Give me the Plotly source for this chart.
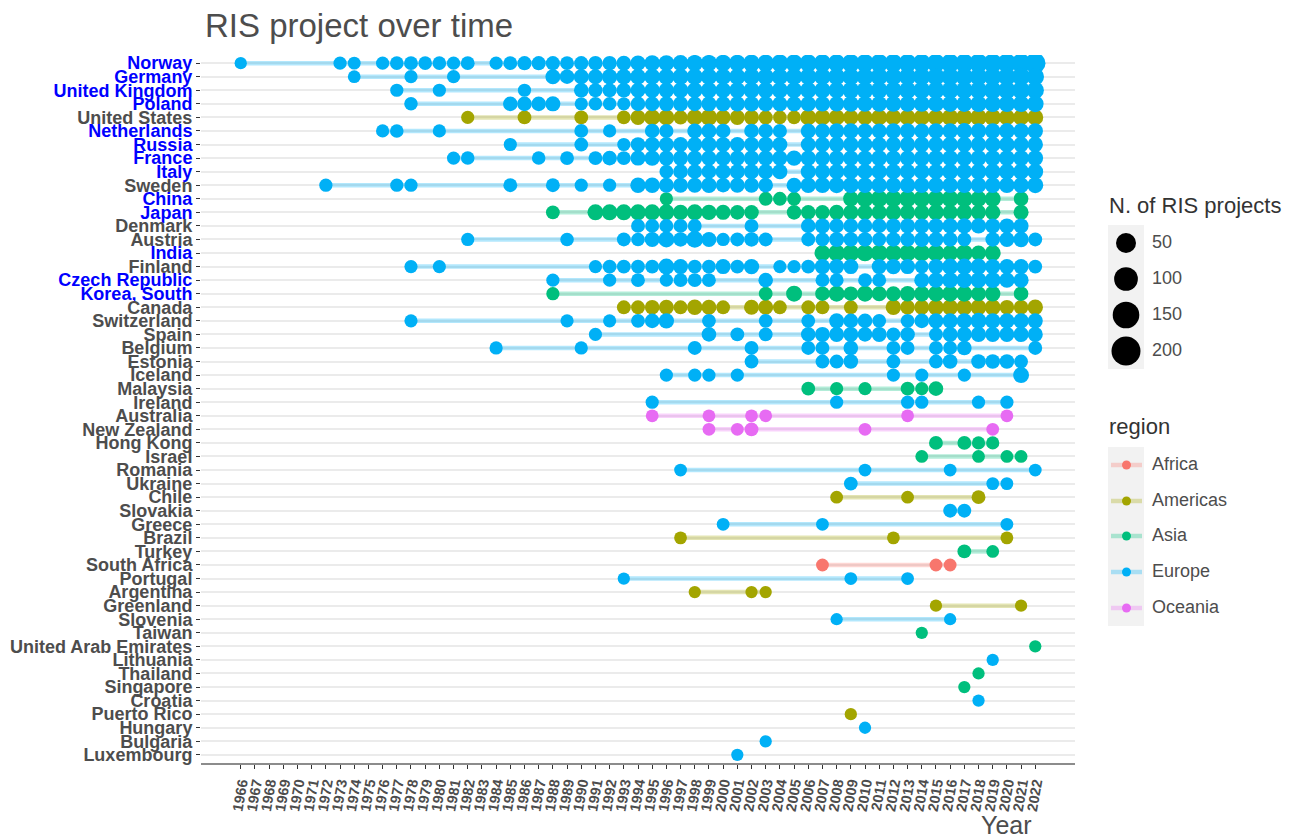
import math
import plotly.graph_objects as go

# ---------------- data ----------------
countries = ["Norway", "Germany", "United Kingdom", "Poland", "United States", "Netherlands",
             "Russia", "France", "Italy", "Sweden", "China", "Japan", "Denmark", "Austria",
             "India", "Finland", "Czech Republic", "Korea, South", "Canada", "Switzerland",
             "Spain", "Belgium", "Estonia", "Iceland", "Malaysia", "Ireland", "Australia",
             "New Zealand", "Hong Kong", "Israel", "Romania", "Ukraine", "Chile", "Slovakia",
             "Greece", "Brazil", "Turkey", "South Africa", "Portugal", "Argentina", "Greenland",
             "Slovenia", "Taiwan", "United Arab Emirates", "Lithuania", "Thailand", "Singapore",
             "Croatia", "Puerto Rico", "Hungary", "Bulgaria", "Luxembourg"]

regions = ["Europe", "Europe", "Europe", "Europe", "Americas", "Europe",
           "Europe", "Europe", "Europe", "Europe", "Asia", "Asia", "Europe", "Europe",
           "Asia", "Europe", "Europe", "Asia", "Americas", "Europe",
           "Europe", "Europe", "Europe", "Europe", "Asia", "Europe", "Oceania",
           "Oceania", "Asia", "Asia", "Europe", "Europe", "Americas", "Europe",
           "Europe", "Americas", "Asia", "Africa", "Europe", "Americas", "Americas",
           "Europe", "Asia", "Asia", "Europe", "Asia", "Asia",
           "Europe", "Americas", "Europe", "Europe", "Europe"]

blue_labels = ["Norway", "Germany", "United Kingdom", "Poland", "Netherlands", "Russia",
               "France", "Italy", "China", "Japan", "India", "Czech Republic", "Korea, South"]

norway_years = [1966, 1973, 1974, 1976, 1977, 1978, 1979, 1980, 1981, 1982,
                1984, 1985, 1986, 1987, 1988, 1989, 1990, 1991, 1992, 1993,
                1994, 1995, 1996, 1997, 1998, 1999, 2000, 2001, 2002, 2003,
                2004, 2005, 2006, 2007, 2008, 2009, 2010, 2011, 2012, 2013,
                2014, 2015, 2016, 2017, 2018, 2019, 2020, 2021, 2022]
norway_n = [1, 3, 2, 3, 4, 5, 4, 4, 3, 5,
            3, 5, 6, 6, 6, 5, 6, 7, 7, 9,
            12, 14, 15, 16, 18, 18, 20, 20, 22, 22,
            24, 24, 25, 26, 26, 28, 28, 30, 30, 30,
            32, 32, 34, 34, 36, 36, 38, 40, 55]

germany_years = [1974, 1978, 1981, 1988, 1989, 1990, 1991, 1992, 1993,
                 1994, 1995, 1996, 1997, 1998, 1999, 2000, 2001, 2002, 2003,
                 2004, 2005, 2006, 2007, 2008, 2009, 2010, 2011, 2012, 2013,
                 2014, 2015, 2016, 2017, 2018, 2019, 2020, 2021, 2022]
germany_n = [2, 3, 3, 10, 8, 10, 10, 12, 12,
             14, 15, 16, 16, 18, 18, 16, 18, 20, 18,
             18, 20, 20, 20, 22, 22, 22, 24, 22, 24,
             24, 26, 26, 26, 28, 28, 28, 30, 26]

uk_years = [1977, 1980, 1986, 1990, 1991, 1992, 1993,
            1994, 1995, 1996, 1997, 1998, 1999, 2000, 2001, 2002, 2003,
            2004, 2005, 2006, 2007, 2008, 2009, 2010, 2011, 2012, 2013,
            2014, 2015, 2016, 2017, 2018, 2019, 2020, 2021, 2022]
uk_n = [3, 3, 3, 8, 6, 6, 8,
        10, 12, 12, 14, 14, 15, 14, 15, 16, 16,
        16, 16, 18, 18, 18, 20, 20, 20, 20, 22,
        22, 22, 24, 24, 24, 26, 26, 28, 24]

poland_years = [1978, 1985, 1986, 1987, 1988, 1990, 1991, 1992, 1993,
                1994, 1995, 1996, 1997, 1998, 1999, 2000, 2001, 2002, 2003,
                2004, 2005, 2006, 2007, 2008, 2009, 2010, 2011, 2012, 2013,
                2014, 2015, 2016, 2017, 2018, 2019, 2020, 2021, 2022]
poland_n = [4, 8, 8, 8, 10, 3, 4, 4, 3,
            8, 8, 10, 10, 8, 10, 10, 12, 12, 12,
            10, 10, 12, 12, 12, 14, 14, 14, 15, 15,
            15, 16, 16, 16, 18, 18, 18, 18, 20]

us_years = [1982, 1986, 1990, 1993,
            1994, 1995, 1996, 1997, 1998, 1999, 2000, 2001, 2002, 2003,
            2004, 2005, 2006, 2007, 2008, 2009, 2010, 2011, 2012, 2013,
            2014, 2015, 2016, 2017, 2018, 2019, 2020, 2021, 2022]
us_n = [3, 5, 5, 4,
        10, 15, 15, 6, 15, 18, 10, 10, 10, 6,
        4, 4, 15, 15, 15, 12, 12, 15, 15, 15,
        15, 15, 18, 18, 18, 18, 15, 15, 15]

netherlands_years = [1976, 1977, 1980, 1990, 1992, 1995, 1996, 1998, 1999, 2000, 2002, 2003, 2004,
                     2006, 2007, 2008, 2009, 2010, 2011, 2012, 2013, 2014, 2015, 2016, 2017,
                     2018, 2019, 2020, 2021, 2022]
netherlands_n = [3, 4, 3, 5, 3, 8, 6, 10, 10, 8, 8, 8, 6,
                 10, 10, 12, 12, 10, 10, 12, 12, 10, 12, 12, 14, 12, 12, 14, 12, 12]

russia_years = [1985, 1990, 1993, 1994, 1995, 1996, 1997, 1998, 1999, 2000, 2001, 2002, 2003, 2004,
                2006, 2007, 2008, 2009, 2010, 2011, 2012, 2013, 2014, 2015, 2016, 2017,
                2018, 2019, 2020, 2021, 2022]
russia_n = [3, 5, 3, 8, 10, 10, 10, 10, 12, 10, 10, 10, 12, 10,
            10, 10, 12, 12, 10, 10, 12, 12, 12, 12, 14, 12, 12, 14, 14, 12, 12]

france_years = [1981, 1982, 1987, 1989, 1991, 1992, 1993,
                1994, 1995, 1996, 1997, 1998, 1999, 2000, 2001, 2002, 2003,
                2004, 2005, 2006, 2007, 2008, 2009, 2010, 2011, 2012, 2013,
                2014, 2015, 2016, 2017, 2018, 2019, 2020, 2021, 2022]
france_n = [3, 4, 4, 5, 5, 8, 5,
            10, 12, 10, 10, 10, 10, 12, 10, 12, 12,
            10, 12, 12, 10, 12, 12, 12, 14, 12, 12,
            14, 14, 14, 14, 14, 14, 14, 14, 14]

italy_years = [1996, 1997, 1998, 1999, 2000, 2001, 2002, 2003, 2004,
               2006, 2007, 2008, 2009, 2010, 2011, 2012, 2013, 2014, 2015, 2016, 2017,
               2018, 2019, 2020, 2021, 2022]
italy_n = [5, 8, 8, 8, 10, 10, 10, 10, 10,
           10, 10, 12, 12, 12, 12, 12, 12, 12, 12, 14, 12, 14, 14, 14, 14, 14]

sweden_years = [1972, 1977, 1978, 1985, 1988, 1990, 1992,
                1994, 1995, 1996, 1997, 1998, 1999, 2000, 2001, 2002, 2003,
                2005, 2006, 2007, 2008, 2009, 2010, 2011, 2012, 2013, 2014, 2015, 2016,
                2017, 2018, 2019, 2020, 2021, 2022]
sweden_n = [3, 3, 3, 5, 5, 3, 3,
            12, 12, 10, 10, 10, 12, 8, 10, 10, 8,
            10, 12, 14, 15, 15, 12, 14, 12, 14, 12, 14, 14, 12, 14, 14, 14, 14, 15]

china_years = [1996, 2003, 2004, 2005, 2009, 2010, 2011, 2012, 2013, 2014, 2015, 2016,
               2017, 2018, 2019, 2021]
china_n = [3, 5, 5, 5, 12, 20, 20, 20, 20, 20, 20, 20, 20, 15, 15, 8]

japan_years = [1988, 1991, 1992, 1993, 1994, 1995, 1996, 1997, 1998, 1999, 2000, 2001, 2002,
               2005, 2006, 2007, 2008, 2009, 2010, 2011, 2012, 2013, 2014, 2015, 2016, 2017,
               2018, 2019, 2021]
japan_n = [5, 15, 15, 15, 15, 15, 15, 12, 15, 12, 10, 8, 8,
           8, 8, 8, 10, 12, 12, 12, 15, 12, 12, 15, 12, 15, 10, 12, 10]

denmark_years = [1994, 1995, 1996, 1997, 1998, 2002, 2006, 2007, 2008, 2009, 2010, 2011,
                 2012, 2013, 2014, 2015, 2016, 2017, 2018, 2019, 2020, 2021]
denmark_n = [5, 5, 5, 5, 5, 5, 8, 10, 8, 8, 8, 8, 10, 10, 10, 10, 12, 12, 12, 10, 10, 10]

austria_years = [1982, 1989, 1993, 1994, 1995, 1996, 1997, 1998, 1999, 2000, 2001, 2002, 2003,
                 2006, 2007, 2008, 2009, 2010, 2011, 2012, 2013, 2014, 2015, 2016, 2017,
                 2019, 2020, 2021, 2022]
austria_n = [3, 4, 5, 4, 10, 15, 8, 20, 10, 3, 5, 8, 5,
             5, 5, 10, 8, 8, 5, 8, 8, 10, 10, 8, 5,
             8, 10, 12, 5]

india_years = [2007, 2008, 2009, 2010, 2011, 2012, 2013, 2014, 2015, 2016, 2017, 2018, 2019]
india_n = [15, 20, 20, 20, 20, 20, 20, 20, 20, 15, 20, 10, 15]

finland_years = [1978, 1980, 1991, 1992, 1993, 1994, 1995, 1996, 1997, 1998, 1999, 2000, 2001, 2002,
                 2004, 2005, 2006, 2007, 2008, 2009,
                 2011, 2012, 2013, 2014, 2015, 2016, 2017, 2018, 2019, 2020, 2021, 2022]
finland_n = [3, 3, 3, 5, 5, 5, 5, 15, 10, 5, 5, 10, 5, 12,
             3, 3, 5, 12, 10, 10,
             10, 12, 10, 5, 12, 15, 15, 15, 12, 10, 10, 5]

czech_years = [1988, 1992, 1994, 1996, 1997, 1998, 1999, 2003, 2007, 2008, 2010, 2011,
               2014, 2015, 2016, 2017, 2018, 2019, 2020, 2021]
czech_n = [3, 3, 5, 3, 5, 5, 5, 8, 5, 5, 5, 5, 10, 12, 15, 15, 15, 15, 12, 10]

korea_years = [1988, 2003, 2005, 2007, 2008, 2009, 2010, 2011, 2012, 2013, 2014, 2015,
               2016, 2017, 2018, 2019, 2021]
korea_n = [3, 5, 15, 8, 15, 8, 15, 10, 10, 12, 12, 15, 15, 15, 10, 12, 8]

canada_years = [1993, 1994, 1995, 1996, 1997, 1998, 1999, 2000, 2002, 2003, 2004, 2006, 2007,
                2009, 2012, 2013, 2014, 2015, 2016, 2017, 2018, 2019, 2020, 2021, 2022]
canada_n = [5, 5, 8, 10, 5, 12, 10, 5, 10, 10, 5, 5, 5,
            5, 12, 8, 10, 15, 15, 15, 15, 15, 8, 8, 12]

switzerland_years = [1978, 1989, 1992, 1994, 1995, 1996, 1999, 2003, 2006, 2008, 2009, 2010, 2011,
                     2013, 2014, 2015, 2016, 2017, 2018, 2019, 2020, 2021, 2022]
switzerland_n = [3, 3, 3, 5, 8, 12, 5, 5, 5, 10, 8, 8, 5,
                 5, 8, 10, 10, 12, 15, 12, 12, 12, 10]

spain_years = [1991, 1999, 2001, 2003, 2006, 2007, 2008, 2009, 2010, 2011, 2012, 2013,
               2015, 2016, 2017, 2018, 2019, 2020, 2021, 2022]
spain_n = [3, 8, 5, 5, 8, 10, 10, 10, 8, 10, 5, 8, 5, 10, 10, 12, 10, 10, 12, 10]

belgium_years = [1984, 1990, 1998, 2002, 2006, 2007, 2009, 2012, 2013, 2015, 2016, 2017, 2022]
belgium_n = [3, 3, 5, 5, 5, 5, 8, 5, 5, 5, 5, 8, 5]

estonia_years = [2002, 2007, 2008, 2009, 2012, 2015, 2016, 2018, 2019, 2020, 2021]
estonia_n = [5, 5, 5, 8, 5, 5, 8, 8, 8, 8, 5]

iceland_years = [1996, 1998, 1999, 2001, 2012, 2014, 2017, 2021]
iceland_n = [3, 3, 3, 3, 3, 3, 3, 15]

malaysia_years = [2006, 2008, 2010, 2013, 2014, 2015]
malaysia_n = [5, 3, 3, 5, 3, 8]

ireland_years = [1995, 2008, 2013, 2014, 2018, 2020]
ireland_n = [3, 3, 3, 3, 3, 3]

australia_years = [1995, 1999, 2002, 2003, 2013, 2020]
australia_n = [2, 2, 2, 2, 2, 2]

new_zealand_years = [1999, 2001, 2002, 2010, 2019]
new_zealand_n = [2, 2, 5, 2, 2]

hong_kong_years = [2015, 2017, 2018, 2019]
hong_kong_n = [5, 5, 3, 3]

israel_years = [2014, 2018, 2020, 2021]
israel_n = [2, 2, 2, 2]

romania_years = [1997, 2010, 2016, 2022]
romania_n = [2, 2, 2, 2]

ukraine_years = [2009, 2019, 2020]
ukraine_n = [5, 2, 2]

chile_years = [2008, 2013, 2018]
chile_n = [2, 2, 5]

slovakia_years = [2016, 2017]
slovakia_n = [5, 5]

greece_years = [2000, 2007, 2020]
greece_n = [2, 2, 2]

brazil_years = [1997, 2012, 2020]
brazil_n = [2, 2, 2]

turkey_years = [2017, 2019]
turkey_n = [5, 2]

south_africa_years = [2007, 2015, 2016]
south_africa_n = [2, 2, 2]

portugal_years = [1993, 2009, 2013]
portugal_n = [1, 2, 2]

argentina_years = [1998, 2002, 2003]
argentina_n = [1, 1, 1]

greenland_years = [2015, 2021]
greenland_n = [1, 1]

slovenia_years = [2008, 2016]
slovenia_n = [1, 1]

taiwan_years = [2014]
taiwan_n = [1]
uae_years = [2022]
uae_n = [1]
lithuania_years = [2019]
lithuania_n = [1]
thailand_years = [2018]
thailand_n = [1]
singapore_years = [2017]
singapore_n = [1]
croatia_years = [2018]
croatia_n = [1]
puerto_rico_years = [2009]
puerto_rico_n = [1]
hungary_years = [2010]
hungary_n = [1]
bulgaria_years = [2003]
bulgaria_n = [1]
luxembourg_years = [2001]
luxembourg_n = [1]

year_ticks = list(range(1966, 2023))
size_breaks = [50, 100, 150, 200]
region_names = ["Africa", "Americas", "Asia", "Europe", "Oceania"]

# ---------------- assemble ----------------
series = {
    "Norway": (norway_years, norway_n), "Germany": (germany_years, germany_n),
    "United Kingdom": (uk_years, uk_n), "Poland": (poland_years, poland_n),
    "United States": (us_years, us_n), "Netherlands": (netherlands_years, netherlands_n),
    "Russia": (russia_years, russia_n), "France": (france_years, france_n),
    "Italy": (italy_years, italy_n), "Sweden": (sweden_years, sweden_n),
    "China": (china_years, china_n), "Japan": (japan_years, japan_n),
    "Denmark": (denmark_years, denmark_n), "Austria": (austria_years, austria_n),
    "India": (india_years, india_n), "Finland": (finland_years, finland_n),
    "Czech Republic": (czech_years, czech_n), "Korea, South": (korea_years, korea_n),
    "Canada": (canada_years, canada_n), "Switzerland": (switzerland_years, switzerland_n),
    "Spain": (spain_years, spain_n), "Belgium": (belgium_years, belgium_n),
    "Estonia": (estonia_years, estonia_n), "Iceland": (iceland_years, iceland_n),
    "Malaysia": (malaysia_years, malaysia_n), "Ireland": (ireland_years, ireland_n),
    "Australia": (australia_years, australia_n), "New Zealand": (new_zealand_years, new_zealand_n),
    "Hong Kong": (hong_kong_years, hong_kong_n), "Israel": (israel_years, israel_n),
    "Romania": (romania_years, romania_n), "Ukraine": (ukraine_years, ukraine_n),
    "Chile": (chile_years, chile_n), "Slovakia": (slovakia_years, slovakia_n),
    "Greece": (greece_years, greece_n), "Brazil": (brazil_years, brazil_n),
    "Turkey": (turkey_years, turkey_n), "South Africa": (south_africa_years, south_africa_n),
    "Portugal": (portugal_years, portugal_n), "Argentina": (argentina_years, argentina_n),
    "Greenland": (greenland_years, greenland_n), "Slovenia": (slovenia_years, slovenia_n),
    "Taiwan": (taiwan_years, taiwan_n), "United Arab Emirates": (uae_years, uae_n),
    "Lithuania": (lithuania_years, lithuania_n), "Thailand": (thailand_years, thailand_n),
    "Singapore": (singapore_years, singapore_n), "Croatia": (croatia_years, croatia_n),
    "Puerto Rico": (puerto_rico_years, puerto_rico_n), "Hungary": (hungary_years, hungary_n),
    "Bulgaria": (bulgaria_years, bulgaria_n), "Luxembourg": (luxembourg_years, luxembourg_n),
}

solid = {"Africa": "#F8766D", "Americas": "#A3A500", "Asia": "#00BF7D",
         "Europe": "#00B0F6", "Oceania": "#E76BF3"}
faded = {"Africa": "rgba(248,118,109,0.3)", "Americas": "rgba(163,165,0,0.3)",
         "Asia": "rgba(0,191,125,0.3)", "Europe": "rgba(0,176,246,0.3)",
         "Oceania": "rgba(231,107,243,0.3)"}


def size_px(n):
    return 11 + 1.273 * math.sqrt(n)


FONT = "Liberation Sans, Arial, Helvetica, sans-serif"
W, H = 1299, 838
ML, MR, MT, MB = 201, 0, 55, 75
plot_w = W - ML - MR
plot_h = H - MT - MB
main_right_px = 1075
x_dom_end = (main_right_px - ML) / plot_w

fig = go.Figure()

# range lines (first to last year), one per country
for c, r in zip(countries, regions):
    yrs, _ = series[c]
    fig.add_trace(go.Scatter(x=[min(yrs), max(yrs)], y=[c, c], mode="lines",
                             line=dict(color=faded[r], width=4.5),
                             hoverinfo="skip", showlegend=False,
                             xaxis="x", yaxis="y"))

# points, one trace per region
for reg in region_names:
    xs, ys, ss, ns = [], [], [], []
    for c, r in zip(countries, regions):
        if r != reg:
            continue
        yrs, nn = series[c]
        for yv, nv in zip(yrs, nn):
            xs.append(yv)
            ys.append(c)
            ss.append(size_px(nv))
            ns.append(nv)
    fig.add_trace(go.Scatter(x=xs, y=ys, mode="markers",
                             marker=dict(color=solid[reg], size=ss, sizemode="diameter",
                                         line=dict(width=0), opacity=1),
                             customdata=ns, name=reg,
                             hovertemplate="%{y} %{x}: %{customdata}<extra></extra>",
                             showlegend=False, xaxis="x", yaxis="y"))

# ---------- legend drawn on a helper axis (units = screen pixels) ----------
size_leg_y = [243, 279, 315, 351]
fig.add_trace(go.Scatter(x=[1126] * len(size_breaks), y=size_leg_y, mode="markers",
                         marker=dict(color="#000000", size=[size_px(v) for v in size_breaks],
                                     line=dict(width=0), opacity=1),
                         hoverinfo="skip", showlegend=False, xaxis="x2", yaxis="y2"))
fig.add_trace(go.Scatter(x=[1152] * len(size_breaks), y=size_leg_y, mode="text",
                         text=[str(v) for v in size_breaks], textposition="middle right",
                         textfont=dict(family=FONT, size=18, color="#4D4D4D"),
                         hoverinfo="skip", showlegend=False, xaxis="x2", yaxis="y2"))

reg_leg_y = [465, 501, 536, 572, 608]
for reg, yy in zip(region_names, reg_leg_y):
    fig.add_trace(go.Scatter(x=[1111, 1142], y=[yy, yy], mode="lines",
                             line=dict(color=faded[reg], width=4.5),
                             hoverinfo="skip", showlegend=False, xaxis="x2", yaxis="y2"))
    fig.add_trace(go.Scatter(x=[1126.5], y=[yy], mode="markers",
                             marker=dict(color=solid[reg], size=9, line=dict(width=0)),
                             hoverinfo="skip", showlegend=False, xaxis="x2", yaxis="y2"))
fig.add_trace(go.Scatter(x=[1152] * len(region_names), y=reg_leg_y, mode="text",
                         text=region_names, textposition="middle right",
                         textfont=dict(family=FONT, size=18, color="#4D4D4D"),
                         hoverinfo="skip", showlegend=False, xaxis="x2", yaxis="y2"))

shapes = [
    dict(type="rect", xref="x2", yref="y2", x0=1108, x1=1144, y0=225, y1=369,
         fillcolor="#F2F2F2", line=dict(width=0), layer="below"),
    dict(type="rect", xref="x2", yref="y2", x0=1108, x1=1144, y0=447, y1=626,
         fillcolor="#F2F2F2", line=dict(width=0), layer="below"),
]

annotations = [
    dict(text="N. of RIS projects", xref="x2", yref="y2", x=1107, y=205,
         xanchor="left", yanchor="middle", showarrow=False,
         font=dict(family=FONT, size=22, color="#333333")),
    dict(text="region", xref="x2", yref="y2", x=1107, y=426,
         xanchor="left", yanchor="middle", showarrow=False,
         font=dict(family=FONT, size=22, color="#333333")),
    dict(text="Year", xref="x", yref="paper", x=2021.9, y=-(825 - (H - MB)) / plot_h,
         xanchor="right", yanchor="middle", showarrow=False,
         font=dict(family=FONT, size=25, color="#4D4D4D")),
]

ticktext_y = []
for c in countries:
    if c in blue_labels:
        ticktext_y.append(f"<b><span style='color:blue'>{c}</span></b>")
    else:
        ticktext_y.append(f"<b>{c}</b>")

fig.update_layout(
    width=W, height=H,
    margin=dict(l=ML, r=MR, t=MT, b=MB, pad=0, autoexpand=False),
    paper_bgcolor="white", plot_bgcolor="white",
    font=dict(family=FONT, color="#4D4D4D"),
    title=dict(text="RIS project over time", x=205 / W, xref="container", xanchor="left",
               y=1 - 25 / H, yref="container", yanchor="middle",
               font=dict(family=FONT, size=33, color="#4D4D4D")),
    xaxis=dict(domain=[0, x_dom_end], range=[1963.2, 2024.8], tickmode="array",
               tickvals=year_ticks, ticktext=[f"<b>{y}</b>" for y in year_ticks],
               tickangle=-80, tickfont=dict(family=FONT, size=14.5, color="#4D4D4D"),
               ticks="outside", ticklen=4, tickwidth=1.2, tickcolor="#333333",
               showgrid=False, zeroline=False, showline=True, linecolor="#8C8C8C",
               linewidth=2, anchor="y", fixedrange=True, automargin=False),
    yaxis=dict(type="category", categoryorder="array", categoryarray=countries,
               range=[len(countries) - 1 + 0.6, -0.6], tickmode="array",
               tickvals=countries, ticktext=ticktext_y,
               tickfont=dict(family=FONT, size=18, color="#4D4D4D"),
               ticks="outside", ticklen=4, tickwidth=1.2, tickcolor="#333333",
               showgrid=True, gridcolor="#EBEBEB", gridwidth=1.5,
               zeroline=False, showline=False, anchor="x", fixedrange=True,
               automargin=False),
    xaxis2=dict(domain=[x_dom_end, 1], range=[main_right_px, W], visible=False,
                anchor="y2", fixedrange=True, automargin=False),
    yaxis2=dict(domain=[0, 1], range=[H - MB, MT], visible=False, anchor="x2",
                fixedrange=True, automargin=False),
    shapes=shapes, annotations=annotations,
)

fig.write_html("out.html", config={"displayModeBar": False},
               post_script="document.body.style.margin='0px';"
                           "document.body.style.overflow='hidden';")
